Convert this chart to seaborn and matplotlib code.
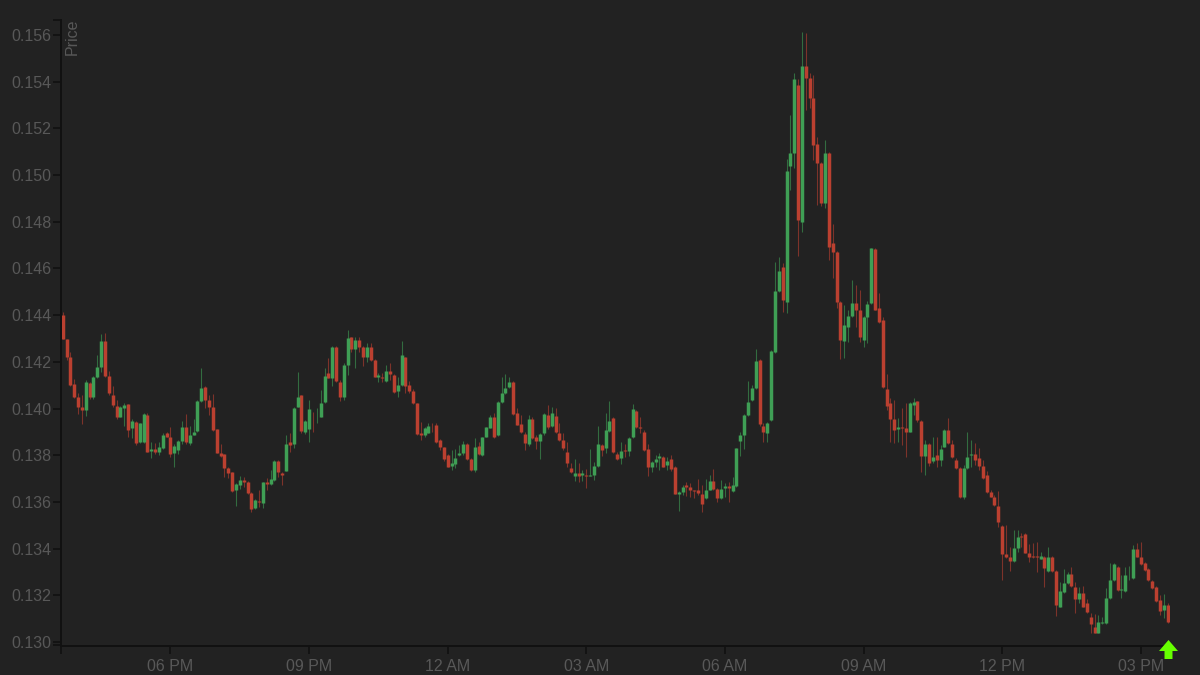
import matplotlib
matplotlib.use("Agg")
import matplotlib.pyplot as plt
import matplotlib.dates as mdates
from matplotlib.path import Path
from matplotlib.ticker import FormatStrFormatter
import numpy as np
import pandas as pd
import seaborn as sns

# 5 minute candles, prices (in units of 0.00001)
opens = np.array([
    14401, 14297, 14219, 14105, 14051, 14008, 13994, 14108, 14048, 14134,
    14179, 14291, 14139, 14058, 14011, 13965, 14001, 14020, 13915, 13944,
    13858, 13858, 13972, 13820, 13828, 13814, 13831, 13897, 13880, 13811,
    13823, 13863, 13922, 13854, 13888, 13905, 14032, 14091, 14037, 14005,
    13911, 13808, 13804, 13744, 13727, 13651, 13671, 13694, 13687, 13640,
    13573, 13604, 13597, 13685, 13677, 13694, 13774, 13725, 13734, 13857,
    13848, 14008, 14057, 13901, 13911, 13965, 13962, 13965, 14030, 14154,
    14129, 14265, 14115, 14048, 14186, 14305, 14253, 14293, 14265, 14222,
    14265, 14208, 14133, 14136, 14119, 14162, 14143, 14076, 14101, 14219,
    14099, 14076, 14022, 13894, 13886, 13896, 13931, 13928, 13865, 13834,
    13799, 13754, 13762, 13802, 13808, 13848, 13785, 13737, 13839, 13801,
    13879, 13918, 13965, 13886, 14029, 14065, 14091, 14113, 13982, 13934,
    13891, 13848, 13954, 13876, 13859, 13894, 13972, 13925, 13968, 13896,
    13865, 13815, 13744, 13711, 13725, 13715, 13715, 13713, 13715, 13753,
    13843, 13829, 13905, 13958, 13805, 13790, 13822, 13819, 13876, 13990,
    13919, 13900, 13825, 13750, 13772, 13786, 13793, 13758, 13783, 13750,
    13636, 13641, 13673, 13665, 13649, 13651, 13636, 13615, 13653, 13688,
    13655, 13618, 13658, 13668, 13648, 13670, 13862, 13886, 13973, 14036,
    14086, 14207, 13925, 13893, 13950, 14240, 14505, 14608, 14458, 15039,
    15096, 15386, 14800, 15467, 15414, 15328, 15133, 15050, 14879, 15093,
    14708, 14672, 14458, 14291, 14351, 14397, 14451, 14420, 14294, 14394,
    14451, 14684, 14430, 14377, 14083, 14023, 13954, 13911, 13920, 13918,
    13901, 14017, 14031, 13945, 13797, 13848, 13774, 13801, 13780, 13837,
    13908, 13848, 13780, 13744, 13623, 13746, 13800, 13806, 13786, 13754,
    13715, 13644, 13622, 13584, 13497, 13377, 13362, 13347, 13404, 13454,
    13462, 13382, 13368, 13367, 13355, 13365, 13305, 13365, 13304, 13151,
    13215, 13251, 13290, 13237, 13183, 13211, 13165, 13108, 13065, 13040,
    13083, 13083, 13187, 13265, 13322, 13222, 13218, 13285, 13274, 13398,
    13365, 13340, 13311, 13262, 13234, 13180, 13137, 13158]) / 100000

closes = np.array([
    14297, 14219, 14101, 14048, 14008, 13994, 14115, 14048, 14134, 14179,
    14291, 14139, 14065, 14015, 13962, 14005, 14017, 13908, 13948, 13851,
    13937, 13977, 13815, 13828, 13814, 13834, 13887, 13880, 13805, 13840,
    13863, 13922, 13858, 13887, 13901, 14032, 14087, 14037, 14005, 13908,
    13811, 13797, 13744, 13725, 13648, 13677, 13694, 13687, 13640, 13568,
    13608, 13601, 13684, 13675, 13697, 13774, 13728, 13715, 13848, 13845,
    14004, 14048, 13904, 13947, 13997, 13962, 13965, 14025, 14138, 14129,
    14265, 14119, 14048, 14186, 14300, 14253, 14293, 14265, 14222, 14262,
    14208, 14136, 14143, 14129, 14162, 14148, 14072, 14101, 14229, 14096,
    14076, 14022, 13891, 13886, 13915, 13925, 13928, 13856, 13834, 13782,
    13751, 13765, 13788, 13811, 13848, 13785, 13737, 13836, 13805, 13876,
    13919, 13965, 13879, 14029, 14065, 14086, 14113, 13976, 13931, 13899,
    13851, 13954, 13874, 13862, 13891, 13975, 13919, 13982, 13901, 13865,
    13829, 13765, 13728, 13725, 13710, 13722, 13712, 13716, 13753, 13848,
    13822, 13910, 13948, 13815, 13782, 13819, 13819, 13873, 13997, 13919,
    13918, 13822, 13750, 13770, 13782, 13795, 13750, 13776, 13739, 13636,
    13641, 13665, 13665, 13651, 13648, 13639, 13591, 13651, 13688, 13655,
    13615, 13656, 13668, 13658, 13673, 13829, 13886, 13973, 14026, 14086,
    14203, 13933, 13899, 13936, 14247, 14505, 14591, 14465, 15019, 15096,
    15410, 14807, 15467, 15414, 15328, 15129, 15050, 14879, 15096, 14691,
    14672, 14458, 14294, 14358, 14397, 14454, 14420, 14305, 14394, 14448,
    14686, 14422, 14372, 14091, 14011, 13957, 13908, 13920, 13917, 13900,
    14023, 14030, 13951, 13797, 13848, 13768, 13791, 13780, 13825, 13908,
    13851, 13791, 13744, 13623, 13744, 13794, 13806, 13780, 13754, 13701,
    13644, 13622, 13587, 13514, 13377, 13362, 13348, 13404, 13448, 13451,
    13382, 13365, 13364, 13362, 13368, 13315, 13362, 13304, 13158, 13220,
    13251, 13290, 13240, 13183, 13211, 13151, 13130, 13077, 13040, 13087,
    13085, 13187, 13265, 13334, 13222, 13225, 13287, 13288, 13398, 13365,
    13334, 13308, 13265, 13230, 13177, 13134, 13157, 13087]) / 100000

highs = np.array([
    14415, 14297, 14244, 14125, 14065, 14058, 14122, 14115, 14139, 14229,
    14318, 14322, 14162, 14097, 14037, 14011, 14025, 14020, 13954, 13948,
    13940, 13982, 13980, 13858, 13851, 13858, 13894, 13901, 13922, 13848,
    13865, 13948, 13977, 13925, 13954, 14037, 14172, 14097, 14058, 14061,
    13914, 13848, 13805, 13748, 13730, 13683, 13711, 13708, 13690, 13644,
    13613, 13651, 13687, 13701, 13737, 13780, 13780, 13730, 13887, 13897,
    14008, 14158, 14058, 13951, 14037, 13987, 14001, 14080, 14172, 14215,
    14268, 14268, 14122, 14193, 14336, 14308, 14305, 14305, 14268, 14282,
    14282, 14211, 14151, 14151, 14186, 14196, 14148, 14136, 14290, 14219,
    14119, 14082, 14025, 13944, 13919, 13939, 13936, 13936, 13868, 13836,
    13805, 13822, 13825, 13844, 13862, 13851, 13788, 13872, 13858, 13879,
    13922, 13972, 13979, 14032, 14133, 14148, 14136, 14116, 14001, 13972,
    13901, 13972, 13965, 13886, 13894, 13979, 14015, 14005, 14001, 13936,
    13894, 13858, 13765, 13782, 13768, 13736, 13743, 13825, 13772, 13925,
    13848, 13982, 14033, 13962, 13815, 13858, 13850, 13876, 14019, 13993,
    13962, 13910, 13848, 13776, 13800, 13808, 13796, 13793, 13800, 13753,
    13648, 13672, 13686, 13679, 13651, 13696, 13672, 13700, 13715, 13743,
    13658, 13693, 13679, 13686, 13708, 13833, 13900, 13976, 14119, 14100,
    14253, 14214, 13936, 13943, 14250, 14629, 14651, 14622, 15067, 15257,
    15436, 15410, 15614, 15607, 15436, 15428, 15164, 15057, 15150, 15100,
    14790, 14676, 14462, 14444, 14422, 14551, 14529, 14508, 14397, 14462,
    14689, 14686, 14494, 14391, 14148, 14044, 14037, 13958, 14001, 14023,
    14030, 14044, 14034, 13951, 13866, 13851, 13877, 13880, 13844, 13911,
    13958, 13866, 13787, 13748, 13758, 13901, 13866, 13851, 13830, 13779,
    13734, 13651, 13629, 13647, 13501, 13501, 13408, 13480, 13480, 13465,
    13468, 13420, 13422, 13430, 13387, 13368, 13405, 13368, 13308, 13258,
    13311, 13301, 13320, 13258, 13237, 13240, 13183, 13125, 13122, 13115,
    13108, 13230, 13340, 13340, 13325, 13287, 13322, 13325, 13415, 13422,
    13430, 13344, 13315, 13265, 13240, 13201, 13205, 13165]) / 100000

lows = np.array([
    14297, 14208, 14097, 14044, 13977, 13934, 13968, 14040, 14040, 14129,
    14158, 14134, 14058, 14008, 13954, 13962, 13925, 13877, 13872, 13843,
    13854, 13854, 13814, 13790, 13805, 13801, 13827, 13877, 13794, 13751,
    13805, 13848, 13848, 13844, 13887, 13901, 14030, 14001, 13972, 13905,
    13808, 13794, 13708, 13701, 13644, 13583, 13654, 13665, 13634, 13558,
    13568, 13580, 13573, 13651, 13673, 13690, 13708, 13673, 13731, 13815,
    13830, 14005, 13894, 13891, 13858, 13901, 13940, 13962, 14025, 14129,
    14097, 14115, 14033, 14036, 14143, 14243, 14172, 14243, 14182, 14201,
    14205, 14133, 14115, 14112, 14115, 14122, 14068, 14048, 14096, 14065,
    14068, 14019, 13886, 13865, 13879, 13894, 13901, 13851, 13822, 13776,
    13748, 13737, 13744, 13796, 13801, 13779, 13732, 13729, 13801, 13796,
    13876, 13915, 13872, 13882, 14025, 14062, 14086, 13972, 13928, 13894,
    13822, 13839, 13868, 13825, 13782, 13886, 13911, 13919, 13894, 13862,
    13822, 13751, 13725, 13691, 13686, 13690, 13658, 13710, 13693, 13750,
    13796, 13810, 13900, 13810, 13779, 13762, 13793, 13796, 13872, 13915,
    13893, 13819, 13710, 13729, 13748, 13736, 13748, 13736, 13733, 13633,
    13562, 13629, 13625, 13622, 13615, 13629, 13558, 13611, 13651, 13651,
    13601, 13611, 13622, 13601, 13643, 13665, 13796, 13825, 13970, 14033,
    14082, 13925, 13858, 13858, 13947, 14237, 14501, 14415, 14408, 14936,
    15029, 14654, 14757, 15279, 15286, 15064, 14872, 14867, 14857, 14637,
    14558, 14429, 14211, 14215, 14287, 14394, 14351, 14287, 14262, 14282,
    14448, 14420, 14365, 14087, 13994, 13858, 13851, 13858, 13844, 13794,
    13898, 13973, 13944, 13730, 13716, 13754, 13766, 13751, 13754, 13834,
    13848, 13787, 13740, 13616, 13611, 13743, 13748, 13758, 13737, 13697,
    13639, 13619, 13582, 13491, 13265, 13358, 13304, 13344, 13387, 13405,
    13380, 13344, 13358, 13301, 13354, 13234, 13301, 13301, 13111, 13148,
    13211, 13248, 13237, 13125, 13168, 13148, 13125, 13040, 13037, 13037,
    13077, 13077, 13183, 13262, 13220, 13187, 13215, 13265, 13271, 13362,
    13330, 13305, 13262, 13227, 13173, 13115, 13101, 13083]) / 100000

times = pd.date_range("2021-06-01 15:40", periods=len(opens), freq="5min")
y_ticks = [0.130, 0.132, 0.134, 0.136, 0.138, 0.140, 0.142, 0.144, 0.146, 0.148, 0.150, 0.152, 0.154, 0.156]
marker_price = [0.12968]
marker_time = [times[-1]]

BG = "#222222"
AXIS = "#111111"
TEXT = "#585858"
colors = {"up": "#3f9f55", "down": "#bb4030"}

sns.set_theme(style="dark", rc={
    "axes.facecolor": BG,
    "figure.facecolor": BG,
    "axes.edgecolor": AXIS,
    "axes.linewidth": 1.4,
})
plt.rcParams["font.family"] = ["Liberation Sans", "DejaVu Sans"]

direction = np.where(closes >= opens, "up", "down")
candle = np.arange(len(opens))

# each candle gets two rows, one line per candle through units=
wicks = pd.DataFrame({
    "time": np.tile(times, 2),
    "price": np.concatenate([lows, highs]),
    "candle": np.tile(candle, 2),
    "direction": np.tile(direction, 2),
})
bodies = pd.DataFrame({
    "time": np.tile(times, 2),
    "price": np.concatenate([opens, closes]),
    "candle": np.tile(candle, 2),
    "direction": np.tile(direction, 2),
})

fig = plt.figure(figsize=(12, 6.75), dpi=100)
ax = fig.add_axes([61 / 1200, 1 - 645.5 / 675, 1109 / 1200, 625.5 / 675])

sns.lineplot(data=wicks, x="time", y="price", hue="direction", units="candle", estimator=None,
             palette=colors, legend=False, linewidth=0.8, alpha=0.6, solid_capstyle="butt", ax=ax)
sns.lineplot(data=bodies, x="time", y="price", hue="direction", units="candle", estimator=None,
             palette=colors, legend=False, linewidth=2.5, solid_capstyle="butt", ax=ax)

# green arrow under the last candle
arrow = Path([(0, 1), (1.0, -0.16), (0.42, -0.16), (0.42, -1), (-0.42, -1),
              (-0.42, -0.16), (-1.0, -0.16), (0, 1)], closed=True)
sns.scatterplot(x=marker_time, y=marker_price, marker=arrow, s=187, color="#66ff00",
                linewidth=0, clip_on=False, zorder=5, ax=ax)

x_start = times[0] - pd.Timedelta(minutes=2.2)
x_end = times[-1] + pd.Timedelta(minutes=3)
y_low, y_high = 0.12985, 0.15664
ax.set_xlim(x_start, x_end)
ax.set_ylim(y_low, y_high)

ax.xaxis.set_major_locator(mdates.HourLocator(byhour=range(0, 24, 3)))
ax.xaxis.set_major_formatter(mdates.DateFormatter("%I %p"))
ax.set_yticks(y_ticks)
ax.yaxis.set_major_formatter(FormatStrFormatter("%.3f"))

# end ticks of the axis lines
ax.set_xticks(mdates.date2num([x_start, x_end]), minor=True)
ax.set_yticks([y_low, y_high], minor=True)
ax.tick_params(which="both", length=6, width=1.2, color=AXIS, bottom=True, left=True)
ax.tick_params(axis="y", which="major", labelsize=11.5, labelcolor=TEXT, pad=0.8)
ax.tick_params(axis="x", which="major", labelsize=11.5, labelcolor=TEXT, pad=3.5)
ax.grid(False)

ax.set_xlabel("")
ax.set_ylabel("Price", loc="top", fontsize=11.5, color=TEXT, va="center")
ax.yaxis.set_label_coords(11 / 1109, 1.003)
sns.despine(ax=ax)

fig.savefig("out.png", dpi=100, facecolor=BG)
